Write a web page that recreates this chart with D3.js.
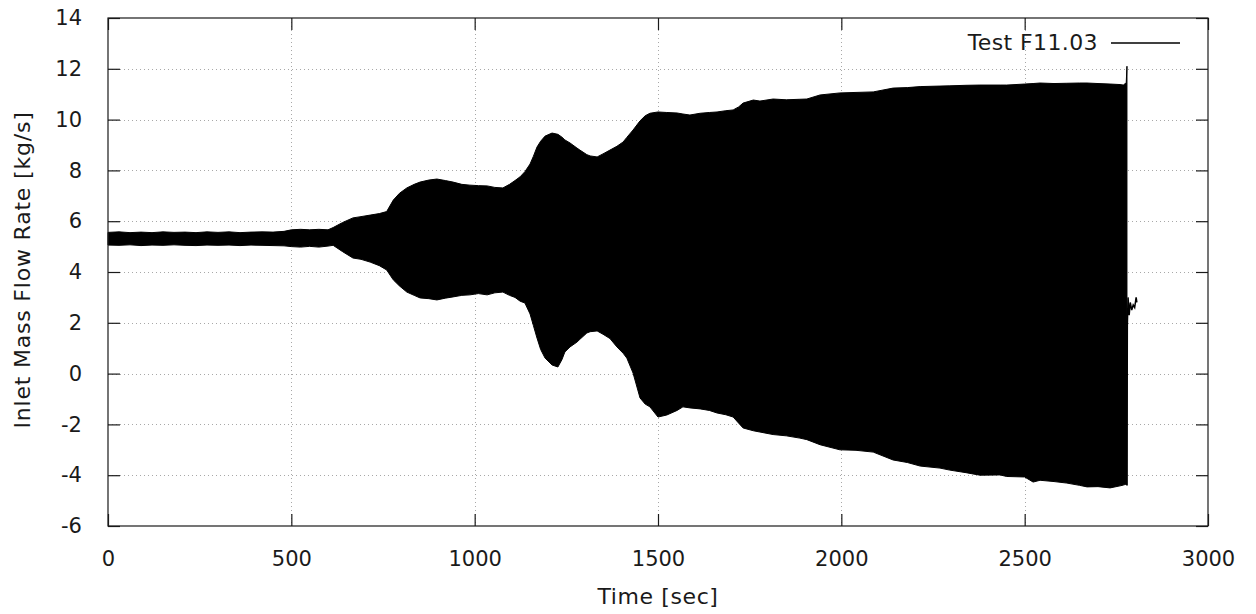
<!DOCTYPE html>
<html>
<head>
<meta charset="utf-8">
<script src="https://cdn.jsdelivr.net/npm/d3@7"></script>
<style>
  html, body { margin: 0; padding: 0; background: #fff; }
  svg { display: block; }
  text { font-family: "DejaVu Sans", sans-serif; fill: #1a1a1a; }
</style>
</head>
<body>
<svg id="chart" width="1256" height="614"></svg>
<script>
// Envelope of the oscillating inlet mass flow rate (upper and lower extremes)
const timeSec = [0,30,60,90,120,150,180,210,240,270,300,330,360,390,420,450,480,500,525,550,575,600,614,640,668,690,715,740,760,778,795,815,835,851,875,897,920,941,965,987,1010,1034,1055,1077,1095,1110,1124,1137,1151,1160,1170,1180,1192,1211,1227,1238,1246,1260,1279,1287,1306,1315,1334,1350,1369,1388,1405,1415,1432,1451,1465,1478,1500,1524,1552,1568,1587,1615,1640,1661,1685,1705,1720,1732,1760,1778,1814,1850,1887,1906,1942,1996,2040,2087,2141,2180,2215,2269,2296,2340,2378,2433,2451,2500,2523,2542,2580,2615,2650,2670,2700,2733,2760,2769,2777,2779];
const flowMax = [5.56,5.58,5.55,5.57,5.55,5.58,5.56,5.57,5.55,5.58,5.56,5.58,5.55,5.57,5.58,5.57,5.6,5.66,5.68,5.66,5.68,5.66,5.75,5.95,6.13,6.18,6.24,6.3,6.38,6.83,7.1,7.31,7.45,7.54,7.62,7.66,7.6,7.54,7.45,7.42,7.4,7.39,7.33,7.31,7.45,7.6,7.75,7.95,8.25,8.55,8.92,9.15,9.35,9.47,9.42,9.31,9.2,9.08,8.88,8.8,8.62,8.57,8.53,8.65,8.8,8.95,9.12,9.3,9.59,9.95,10.15,10.25,10.3,10.28,10.26,10.22,10.18,10.25,10.28,10.3,10.35,10.38,10.5,10.65,10.77,10.73,10.81,10.78,10.8,10.81,10.97,11.05,11.07,11.09,11.24,11.26,11.3,11.32,11.33,11.35,11.36,11.36,11.36,11.4,11.42,11.44,11.42,11.43,11.44,11.44,11.42,11.4,11.38,11.36,11.45,12.1];
const flowMin = [5.06,5.05,5.07,5.04,5.06,5.05,5.07,5.05,5.04,5.06,5.05,5.06,5.04,5.06,5.05,5.04,5.03,5.0,4.98,5.01,4.98,5.02,5.05,4.8,4.55,4.5,4.39,4.25,4.08,3.69,3.45,3.21,3.08,2.98,2.95,2.9,2.97,3.02,3.08,3.1,3.15,3.1,3.18,3.21,3.08,3.0,2.85,2.78,2.35,1.9,1.4,0.95,0.61,0.34,0.26,0.55,0.85,1.05,1.24,1.35,1.6,1.65,1.68,1.55,1.38,1.05,0.8,0.61,0.02,-0.96,-1.2,-1.31,-1.71,-1.63,-1.45,-1.31,-1.35,-1.39,-1.45,-1.55,-1.62,-1.71,-1.95,-2.14,-2.25,-2.3,-2.4,-2.45,-2.54,-2.6,-2.8,-3.0,-3.02,-3.09,-3.4,-3.5,-3.64,-3.72,-3.8,-3.9,-4.0,-3.99,-4.05,-4.07,-4.27,-4.2,-4.25,-4.31,-4.4,-4.46,-4.45,-4.5,-4.42,-4.39,-4.35,-4.4];

// Short trace after the oscillation stops
const tailTime = [2779,2780,2782,2785,2788,2792,2796,2800,2804,2806];
const tailFlow = [-4.4,1.9,3.0,2.3,2.8,2.5,2.7,2.6,3.0,2.8];

const xTicks = [0,500,1000,1500,2000,2500,3000];
const yTicks = [-6,-4,-2,0,2,4,6,8,10,12,14];
const seriesName = "Test F11.03";

const svg = d3.select("#chart");
const plotL = 108, plotR = 1208, plotT = 18, plotB = 526;
const fontSize = 21;
const plain = d => String(d);

const x = d3.scaleLinear().domain([0, 3000]).range([plotL, plotR]);
const y = d3.scaleLinear().domain([-6, 14]).range([plotB, plotT]);

// Grid (dotted)
const grid = svg.append("g").attr("stroke", "#a8a8a8").attr("stroke-width", 1)
  .attr("stroke-dasharray", "1,3");
grid.selectAll(".gx").data(xTicks.filter(d => d > 0 && d < 3000)).enter().append("line")
  .attr("x1", d => Math.round(x(d)) + 0.5).attr("x2", d => Math.round(x(d)) + 0.5)
  .attr("y1", plotT).attr("y2", plotB);
grid.selectAll(".gy").data(yTicks.filter(d => d > -6 && d < 14)).enter().append("line")
  .attr("y1", d => Math.round(y(d)) + 0.5).attr("y2", d => Math.round(y(d)) + 0.5)
  .attr("x1", plotL).attr("x2", plotR);

// Oscillation band
const pts = timeSec.map((t, i) => ({t, hi: flowMax[i], lo: flowMin[i]}));
const area = d3.area().x(d => x(d.t)).y0(d => y(d.lo)).y1(d => y(d.hi));
svg.append("path").datum(pts).attr("d", area)
  .attr("fill", "#000").attr("stroke", "#000").attr("stroke-width", 1);

const tail = tailTime.map((t, i) => ({t, v: tailFlow[i]}));
svg.append("path").datum(tail)
  .attr("d", d3.line().x(d => x(d.t)).y(d => y(d.v)))
  .attr("fill", "none").attr("stroke", "#000").attr("stroke-width", 1.5);

// Axes: ticks inward, mirrored on all sides
const tickLen = 12;
const axX = d3.axisBottom(x).tickValues(xTicks).tickFormat(plain).tickSize(-tickLen).tickPadding(tickLen + 12);
const gxb = svg.append("g").attr("transform", `translate(0,${plotB})`).call(axX);
const axXt = d3.axisTop(x).tickValues(xTicks).tickSize(-tickLen).tickFormat("");
const gxt = svg.append("g").attr("transform", `translate(0,${plotT})`).call(axXt);
const axY = d3.axisLeft(y).tickValues(yTicks).tickFormat(plain).tickSize(-tickLen).tickPadding(tickLen + 14);
const gyl = svg.append("g").attr("transform", `translate(${plotL},0)`).call(axY);
const axYr = d3.axisRight(y).tickValues(yTicks).tickSize(-tickLen).tickFormat("");
const gyr = svg.append("g").attr("transform", `translate(${plotR},0)`).call(axYr);

[gxb, gxt, gyl, gyr].forEach(g => {
  g.select(".domain").remove();
  g.selectAll(".tick line").attr("stroke", "#1a1a1a").attr("stroke-width", 1.2);
  g.selectAll(".tick text").attr("font-family", "DejaVu Sans, sans-serif")
    .attr("font-size", fontSize).attr("fill", "#1a1a1a");
});
gxb.selectAll(".tick text").attr("dy", "0.75em");

// Border
svg.append("rect").attr("x", plotL).attr("y", plotT)
  .attr("width", plotR - plotL).attr("height", plotB - plotT)
  .attr("fill", "none").attr("stroke", "#1a1a1a").attr("stroke-width", 1.2);

// Axis titles
svg.append("text").attr("x", (plotL + plotR) / 2).attr("y", 604)
  .attr("text-anchor", "middle").attr("font-size", 22).attr("letter-spacing", 0.6)
  .text("Time [sec]");
svg.append("text").attr("transform", `translate(30,${(plotT + plotB) / 2 - 2}) rotate(-90)`)
  .attr("text-anchor", "middle").attr("font-size", 22).attr("letter-spacing", 0.8)
  .text("Inlet Mass Flow Rate [kg/s]");

// Legend
svg.append("text").attr("x", 1098).attr("y", 50).attr("text-anchor", "end")
  .attr("font-size", 22).attr("letter-spacing", 0.4).text(seriesName);
svg.append("line").attr("x1", 1111).attr("x2", 1180).attr("y1", 43).attr("y2", 43)
  .attr("stroke", "#000").attr("stroke-width", 1.5);
</script>
</body>
</html>
